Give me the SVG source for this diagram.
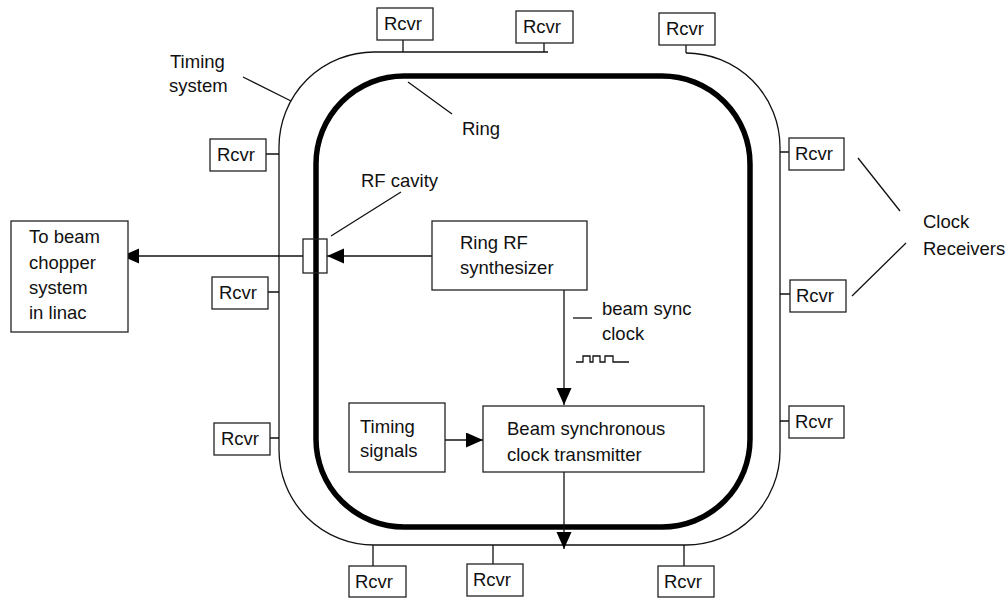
<svg xmlns="http://www.w3.org/2000/svg" width="1008" height="598" viewBox="0 0 1008 598">
<style>
text{font-family:"Liberation Sans",Arial,sans-serif;font-size:18.5px;fill:#111}
.b{fill:#fff;stroke:#222;stroke-width:1.3}
.l{fill:none;stroke:#111;stroke-width:1.3}
.ring{fill:none;stroke:#000;stroke-width:5.5}
</style>
<defs>
<marker id="ah" markerUnits="userSpaceOnUse" markerWidth="18" markerHeight="16" refX="17" refY="7.5" orient="auto">
<path d="M0,0 L17,7.5 L0,15 z" fill="#000"/>
</marker>
</defs>
<rect width="1008" height="598" fill="#fff"/>
<g id="timing-system">
<path class="l" d="M548,52 H374 A95,95 0 0 0 279,147 V450 A95,95 0 0 0 374,545 H686 A94,94 0 0 0 780,451 V147 A94,94 0 0 0 686,53"/>
</g>
<g id="ring">
<rect class="ring" x="316" y="76" width="434" height="451" rx="88" ry="88"/>
</g>
<g id="connectors">
<path class="l" d="M403,40V52 M544,43V52 M686,45V53 M266,154H279 M268,292H279 M270,438H279 M780,152H789 M780,294H790 M780,421H789 M373,545V566 M493,545V564 M684,545V566"/>
<line class="l" x1="303" y1="256" x2="122" y2="256" marker-end="url(#ah)"/>
<line class="l" x1="432" y1="256" x2="327" y2="256" marker-end="url(#ah)"/>
<line class="l" x1="564" y1="290" x2="564" y2="405" marker-end="url(#ah)"/>
<line class="l" x1="445" y1="440" x2="483" y2="440" marker-end="url(#ah)"/>
<line class="l" x1="564" y1="472" x2="564" y2="549" marker-end="url(#ah)"/>
<path class="l" d="M243,77 L291,101 M408,82 L452,114 M401,192 L331,236 M858,158 L900,211 M906,243 L852,296"/>
</g>
<g id="rcvr-t1"><rect class="b" x="377" y="8" width="56" height="32"/><text x="384" y="30">Rcvr</text></g>
<g id="rcvr-t2"><rect class="b" x="516" y="11" width="57" height="32"/><text x="523" y="33">Rcvr</text></g>
<g id="rcvr-t3"><rect class="b" x="659" y="13" width="56" height="32"/><text x="666" y="35">Rcvr</text></g>
<g id="rcvr-l1"><rect class="b" x="210" y="139" width="56" height="32"/><text x="217" y="161">Rcvr</text></g>
<g id="rcvr-l2"><rect class="b" x="212" y="277" width="56" height="32"/><text x="219" y="299">Rcvr</text></g>
<g id="rcvr-l3"><rect class="b" x="214" y="423" width="56" height="32"/><text x="221" y="445">Rcvr</text></g>
<g id="rcvr-r1"><rect class="b" x="789" y="138" width="55" height="32"/><text x="795" y="160">Rcvr</text></g>
<g id="rcvr-r2"><rect class="b" x="790" y="280" width="56" height="32"/><text x="796" y="302">Rcvr</text></g>
<g id="rcvr-r3"><rect class="b" x="789" y="406" width="55" height="32"/><text x="795" y="428">Rcvr</text></g>
<g id="rcvr-b1"><rect class="b" x="349" y="566" width="57" height="31"/><text x="355" y="588">Rcvr</text></g>
<g id="rcvr-b2"><rect class="b" x="467" y="564" width="56" height="32"/><text x="473" y="586">Rcvr</text></g>
<g id="rcvr-b3"><rect class="b" x="658" y="566" width="56" height="31"/><text x="664" y="588">Rcvr</text></g>
<g id="to-beam-chopper">
<rect class="b" x="11" y="221" width="117" height="111"/>
<text x="29" y="243">To beam</text><text x="29" y="269">chopper</text><text x="29" y="294">system</text><text x="29" y="319">in linac</text>
</g>
<g id="rf-cavity"><rect x="303" y="239" width="24" height="34" fill="none" stroke="#222" stroke-width="1.3"/></g>
<g id="ring-rf-synthesizer">
<rect class="b" x="432" y="221" width="155" height="69"/>
<text x="460" y="249">Ring RF</text><text x="460" y="274">synthesizer</text>
</g>
<g id="timing-signals">
<rect class="b" x="349" y="403" width="96" height="69"/>
<text x="360" y="433">Timing</text><text x="360" y="457">signals</text>
</g>
<g id="clock-transmitter">
<rect class="b" x="483" y="406" width="221" height="66"/>
<text x="507" y="435">Beam synchronous</text><text x="507" y="461">clock transmitter</text>
</g>
<g id="labels">
<text x="170" y="68">Timing</text><text x="169" y="92">system</text>
<text x="462" y="135">Ring</text>
<text x="361" y="187">RF cavity</text>
<text x="923" y="228">Clock</text><text x="923" y="255">Receivers</text>
<text x="602" y="315">beam sync</text><text x="602" y="340">clock</text>
<path class="l" d="M573,318 H592"/>
<path class="l" d="M576,362 H583 V356 H590 V362 H593 V356 H600 V362 H605 V356 H613 V362 H629"/>
</g>
</svg>
